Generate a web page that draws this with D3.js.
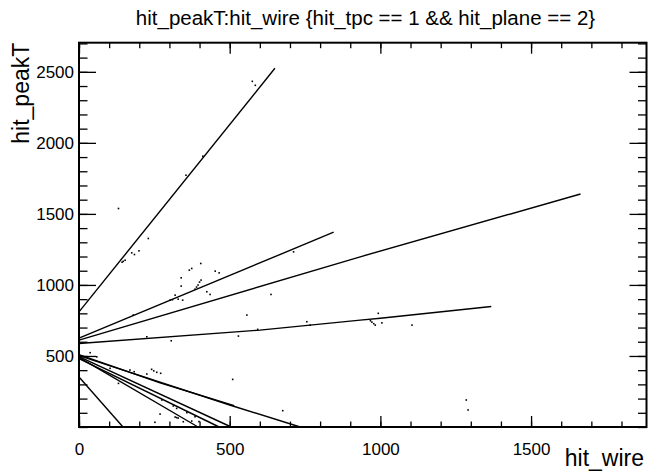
<!DOCTYPE html>
<html>
<head>
<meta charset="utf-8">
<script src="https://cdn.jsdelivr.net/npm/d3@7"></script>
<style>
  body { margin: 0; background: #fff; }
  text { font-family: "Liberation Sans", Arial, sans-serif; fill: #000; }
</style>
</head>
<body>
<div id="fig"></div>
<script>
const fig_width = 650
const fig_height = 471

// chart text
const title = "hit_peakT:hit_wire {hit_tpc == 1 && hit_plane == 2}"
const xTitle = "hit_wire"
const yTitle = "hit_peakT"

// axis ranges and tick labels
const xDomain = [0, 1883]
const yDomain = [0, 2705]
const xTicks = [0, 500, 1000, 1500]
const yTicks = [500, 1000, 1500, 2000, 2500]

// tracks: dense runs of hits, given as [hit_wire, hit_peakT] vertices
const trackA = [[0, 810], [650, 2525]]
const trackB = [[0, 626], [845, 1371]]
const trackC = [[0, 612], [933, 1198], [1664, 1640]]
const trackD = [[0, 588], [600, 682], [933, 752], [1000, 765], [1368, 848]]
const trackE1 = [[0, 510], [269, 310], [515, 150]]
const trackE2 = [[0, 502], [500, 155], [734, 0]]
const trackF = [[0, 490], [395, 0]]
const trackG = [[0, 482], [465, 0]]
const trackH = [[0, 496], [505, 0]]
const trackI = [[0, 352], [146, 0]]
const tracks = [trackA, trackB, trackC, trackD, trackE1, trackE2, trackF, trackG, trackH, trackI]

// isolated hits
const hitWire = [131, 230, 175, 184, 199, 143, 147, 153, 404, 374, 366, 339, 452, 465,
  405, 400, 395, 390, 385, 339, 424, 435, 319, 344, 302, 310, 329, 637, 557, 180, 712,
  593, 529, 225, 411, 355, 306, 756, 767, 575, 585,
  37, 59, 103, 169, 183, 225, 241, 248, 258, 271, 131, 510, 275, 313, 324, 319, 324, 329,
  269, 358, 374, 385, 398, 346, 252, 676, 967, 972, 978, 983, 1005, 1105, 993, 1291, 1285]
const hitPeakT = [1538, 1327, 1226, 1214, 1240, 1160, 1166, 1174, 1151, 1116, 1104, 1050, 1097, 1085,
  1034, 1020, 999, 985, 970, 992, 952, 933, 928, 893, 893, 896, 900, 933, 788, 788, 1233,
  687, 640, 635, 1906, 1772, 607, 741, 717, 2433, 2405,
  523, 494, 413, 401, 389, 373, 406, 395, 385, 378, 307, 335, 190, 148, 131, 70, 66, 63,
  91, 101, 42, 72, 38, 37, 33, 115, 748, 738, 727, 717, 733, 717, 800, 120, 190]

const margin = {left: 79, right: 3.5, top: 42.7, bottom: 44}

let x = d3.scaleLinear()
    .domain(xDomain)
    .range([margin.left, fig_width - margin.right])
let y = d3.scaleLinear()
    .domain(yDomain)
    .range([fig_height - margin.bottom, margin.top])

let fig = d3.select("#fig")
    .append('svg')
    .attr('width', fig_width)
    .attr('height', fig_height)

// tracks first, hits on top
let line = d3.line().x(d => x(d[0])).y(d => y(d[1]))
fig.append('g')
    .selectAll('path.track')
    .data(tracks)
    .join('path')
    .attr('class', 'track')
    .attr('d', line)
    .attr('fill', 'none')
    .attr('stroke', '#000')
    .attr('stroke-width', 1.4)

fig.append('g')
    .selectAll('rect.hit')
    .data(hitWire.map((w, i) => [w, hitPeakT[i]]))
    .join('rect')
    .attr('class', 'hit')
    .attr('x', d => x(d[0]) - 0.8)
    .attr('y', d => y(d[1]) - 0.8)
    .attr('width', 1.6)
    .attr('height', 1.6)
    .attr('fill', '#000')

// axes, ROOT style: ticks inside the frame on all four sides
let xMinor = d3.range(0, xDomain[1], 100)
let yMinor = d3.range(0, yDomain[1], 100)

let xMajorLen = 11, xMinorLen = 5.5
let yMajorLen = 17, yMinorLen = 8.5

fig.append('g')
    .attr('transform', `translate(0,${y(0)})`)
    .call(d3.axisBottom(x).tickValues(xMinor).tickSize(-xMinorLen).tickFormat(''))
fig.append('g')
    .attr('transform', `translate(0,${y(0)})`)
    .call(d3.axisBottom(x).tickValues(xTicks).tickSize(-xMajorLen).tickPadding(xMajorLen + 5).tickFormat(d3.format('d')))
fig.append('g')
    .attr('transform', `translate(0,${y(yDomain[1])})`)
    .call(d3.axisTop(x).tickValues(xMinor).tickSize(-xMinorLen).tickFormat(''))
fig.append('g')
    .attr('transform', `translate(0,${y(yDomain[1])})`)
    .call(d3.axisTop(x).tickValues(xTicks).tickSize(-xMajorLen).tickFormat(''))

fig.append('g')
    .attr('transform', `translate(${x(0)},0)`)
    .call(d3.axisLeft(y).tickValues(yMinor).tickSize(-yMinorLen).tickFormat(''))
fig.append('g')
    .attr('transform', `translate(${x(0)},0)`)
    .call(d3.axisLeft(y).tickValues(yTicks).tickSize(-yMajorLen).tickPadding(5).tickFormat(d3.format('d')))
fig.append('g')
    .attr('transform', `translate(${x(xDomain[1])},0)`)
    .call(d3.axisRight(y).tickValues(yMinor).tickSize(-yMinorLen).tickFormat(''))
fig.append('g')
    .attr('transform', `translate(${x(xDomain[1])},0)`)
    .call(d3.axisRight(y).tickValues(yTicks).tickSize(-yMajorLen).tickFormat(''))

fig.selectAll('.domain').remove()
fig.selectAll('.tick line').attr('stroke', '#000').attr('stroke-width', 1.3)
fig.selectAll('.tick text')
    .style('font-family', '"Liberation Sans", Arial, sans-serif')
    .style('font-size', '17px')
    .attr('fill', '#000')

// frame
fig.append('rect')
    .attr('x', x(0))
    .attr('y', y(yDomain[1]))
    .attr('width', x(xDomain[1]) - x(0))
    .attr('height', y(0) - y(yDomain[1]))
    .attr('fill', 'none')
    .attr('stroke', '#000')
    .attr('stroke-width', 2)

// titles
fig.append('text')
    .attr('x', 365.5)
    .attr('y', 25)
    .attr('text-anchor', 'middle')
    .style('font-size', '20.5px')
    .text(title)

fig.append('text')
    .attr('x', 644)
    .attr('y', 466)
    .attr('text-anchor', 'end')
    .style('font-size', '23px')
    .text(xTitle)

fig.append('text')
    .attr('transform', `translate(29,${y(yDomain[1])}) rotate(-90)`)
    .attr('text-anchor', 'end')
    .style('font-size', '23px')
    .text(yTitle)
</script>
</body>
</html>
